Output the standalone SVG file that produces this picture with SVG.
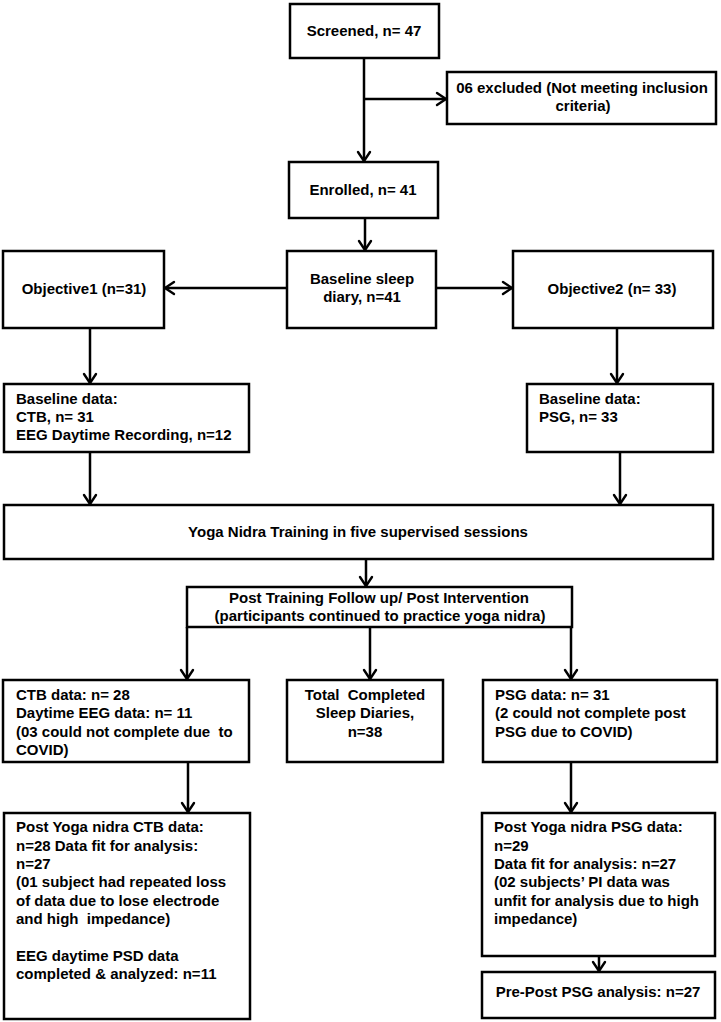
<svg xmlns="http://www.w3.org/2000/svg" width="721" height="1022" viewBox="0 0 721 1022">
<style>
.box{fill:#fff;stroke:#000;stroke-width:2.5}
.t{font-family:"Liberation Sans",Arial,sans-serif;font-weight:bold;font-size:15px;fill:#000}
.c{text-anchor:middle}
.ln{fill:none;stroke:#000;stroke-width:2.5}
</style>
<defs>
<marker id="ah" markerUnits="userSpaceOnUse" markerWidth="16" markerHeight="16" refX="12" refY="8" orient="auto" viewBox="0 0 16 16">
<path d="M3,2 L12,8 L3,14" fill="none" stroke="#000" stroke-width="2.4" stroke-linejoin="round" stroke-linecap="round"/>
</marker>
</defs>
<rect width="721" height="1022" fill="#fff"/>
<g id="connectors">
<path class="ln" d="M364,58 V161" marker-end="url(#ah)"/>
<path class="ln" d="M364,99 H446" marker-end="url(#ah)"/>
<path class="ln" d="M365,218 V250" marker-end="url(#ah)"/>
<path class="ln" d="M287,288 H165" marker-end="url(#ah)"/>
<path class="ln" d="M436,288 H512" marker-end="url(#ah)"/>
<path class="ln" d="M90,328 V383" marker-end="url(#ah)"/>
<path class="ln" d="M617,328 V383" marker-end="url(#ah)"/>
<path class="ln" d="M90,452 V504" marker-end="url(#ah)"/>
<path class="ln" d="M620,452 V504" marker-end="url(#ah)"/>
<path class="ln" d="M366,559 V586" marker-end="url(#ah)"/>
<path class="ln" d="M187,627 V679" marker-end="url(#ah)"/>
<path class="ln" d="M370,627 V679" marker-end="url(#ah)"/>
<path class="ln" d="M571,627 V679" marker-end="url(#ah)"/>
<path class="ln" d="M188,762 V812" marker-end="url(#ah)"/>
<path class="ln" d="M571,762 V812" marker-end="url(#ah)"/>
<path class="ln" d="M599,956 V971" marker-end="url(#ah)"/>
</g>
<g id="screened">
<rect class="box" x="290" y="4" width="149" height="54"/>
<text class="t c" x="364" y="36">Screened, n= 47</text>
</g>
<g id="excluded">
<rect class="box" x="447" y="72" width="269" height="52"/>
<text class="t c" x="582" y="93">06 excluded (Not meeting inclusion</text>
<text class="t c" x="583" y="111">criteria)</text>
</g>
<g id="enrolled">
<rect class="box" x="289" y="162" width="149" height="56"/>
<text class="t c" x="363" y="195">Enrolled, n= 41</text>
</g>
<g id="baseline-diary">
<rect class="box" x="287" y="251" width="149" height="77"/>
<text class="t c" x="362" y="284">Baseline sleep</text>
<text class="t c" x="362" y="302">diary, n=41</text>
</g>
<g id="objective1">
<rect class="box" x="3" y="251" width="161" height="77"/>
<text class="t c" x="84" y="294">Objective1 (n=31)</text>
</g>
<g id="objective2">
<rect class="box" x="513" y="251" width="200" height="77"/>
<text class="t c" x="612" y="294">Objective2 (n= 33)</text>
</g>
<g id="baseline-data-1">
<rect class="box" x="4" y="384" width="245" height="68"/>
<text class="t" x="16" y="404">Baseline data:</text>
<text class="t" x="16" y="422">CTB, n= 31</text>
<text class="t" x="16" y="440">EEG Daytime Recording, n=12</text>
</g>
<g id="baseline-data-2">
<rect class="box" x="527" y="384" width="186" height="68"/>
<text class="t" x="539" y="404">Baseline data:</text>
<text class="t" x="539" y="422">PSG, n= 33</text>
</g>
<g id="yoga">
<rect class="box" x="4" y="505" width="709" height="54"/>
<text class="t c" x="358" y="537">Yoga Nidra Training in five supervised sessions</text>
</g>
<g id="post-training">
<rect class="box" x="187" y="587" width="385" height="40"/>
<text class="t c" x="379" y="603">Post Training Follow up/ Post Intervention</text>
<text class="t c" x="380" y="621">(participants continued to practice yoga nidra)</text>
</g>
<g id="ctb-data">
<rect class="box" x="3" y="680" width="246" height="82"/>
<text class="t" x="16" y="700">CTB data: n= 28</text>
<text class="t" x="16" y="718">Daytime EEG data: n= 11</text>
<text class="t" x="16" y="737" xml:space="preserve">(03 could not complete due  to</text>
<text class="t" x="16" y="755">COVID)</text>
</g>
<g id="sleep-diaries">
<rect class="box" x="287" y="680" width="156" height="82"/>
<text class="t c" x="365" y="700" xml:space="preserve">Total  Completed</text>
<text class="t c" x="365" y="718">Sleep Diaries,</text>
<text class="t c" x="365" y="737">n=38</text>
</g>
<g id="psg-data">
<rect class="box" x="483" y="680" width="234" height="82"/>
<text class="t" x="495" y="700">PSG data: n= 31</text>
<text class="t" x="495" y="718">(2 could not complete post</text>
<text class="t" x="495" y="737">PSG due to COVID)</text>
</g>
<g id="post-ctb">
<rect class="box" x="4" y="813" width="246" height="206"/>
<text class="t" x="16" y="832">Post Yoga nidra CTB data:</text>
<text class="t" x="16" y="851">n=28 Data fit for analysis:</text>
<text class="t" x="16" y="869">n=27</text>
<text class="t" x="16" y="887">(01 subject had repeated loss</text>
<text class="t" x="16" y="906">of data due to lose electrode</text>
<text class="t" x="16" y="924" xml:space="preserve">and high  impedance)</text>
<text class="t" x="16" y="961">EEG daytime PSD data</text>
<text class="t" x="16" y="979">completed &amp; analyzed: n=11</text>
</g>
<g id="post-psg">
<rect class="box" x="482" y="813" width="233" height="143"/>
<text class="t" x="494" y="832">Post Yoga nidra PSG data:</text>
<text class="t" x="494" y="851">n=29</text>
<text class="t" x="494" y="869">Data fit for analysis: n=27</text>
<text class="t" x="494" y="887">(02 subjects’ PI data was</text>
<text class="t" x="494" y="906">unfit for analysis due to high</text>
<text class="t" x="494" y="924">impedance)</text>
</g>
<g id="pre-post">
<rect class="box" x="482" y="972" width="233" height="46"/>
<text class="t c" x="598" y="997">Pre-Post PSG analysis: n=27</text>
</g>
</svg>
